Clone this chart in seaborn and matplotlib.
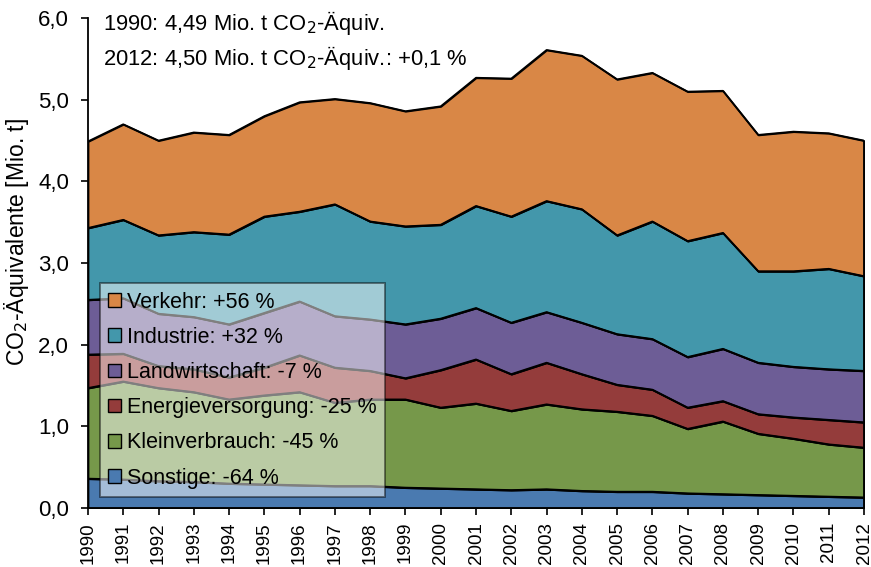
import numpy as np
import pandas as pd
import matplotlib
matplotlib.use("Agg")
import matplotlib.pyplot as plt
import seaborn as sns
from matplotlib.ticker import FuncFormatter, MultipleLocator
from matplotlib.patches import Patch

# Emissions by sector, Mio. t CO2-equivalents
years = list(range(1990, 2013))
sonstige = [0.36, 0.35, 0.33, 0.32, 0.30, 0.29, 0.28, 0.27, 0.27, 0.25, 0.24, 0.23,
            0.22, 0.23, 0.21, 0.20, 0.20, 0.18, 0.17, 0.16, 0.15, 0.14, 0.13]
kleinverbrauch = [1.11, 1.20, 1.14, 1.10, 1.03, 1.09, 1.14, 1.02, 1.06, 1.08, 0.99, 1.05,
                  0.97, 1.04, 1.00, 0.98, 0.93, 0.79, 0.89, 0.75, 0.70, 0.64, 0.61]
energieversorgung = [0.41, 0.34, 0.27, 0.28, 0.27, 0.34, 0.45, 0.43, 0.35, 0.26, 0.46, 0.54,
                     0.45, 0.51, 0.43, 0.33, 0.32, 0.26, 0.25, 0.24, 0.26, 0.30, 0.31]
landwirtschaft = [0.67, 0.68, 0.64, 0.64, 0.65, 0.67, 0.66, 0.63, 0.63, 0.66, 0.63, 0.63,
                  0.63, 0.62, 0.63, 0.62, 0.62, 0.62, 0.64, 0.63, 0.62, 0.62, 0.63]
industrie = [0.88, 0.96, 0.96, 1.04, 1.10, 1.18, 1.10, 1.37, 1.20, 1.20, 1.15, 1.25,
             1.30, 1.36, 1.39, 1.21, 1.44, 1.42, 1.42, 1.12, 1.17, 1.23, 1.16]
verkehr = [1.06, 1.17, 1.16, 1.22, 1.22, 1.23, 1.34, 1.29, 1.45, 1.41, 1.45, 1.57,
           1.69, 1.85, 1.88, 1.91, 1.82, 1.83, 1.74, 1.67, 1.71, 1.66, 1.66]

sectors = ["Sonstige", "Kleinverbrauch", "Energieversorgung",
           "Landwirtschaft", "Industrie", "Verkehr"]
legend_labels = ["Sonstige: -64 %", "Kleinverbrauch: -45 %", "Energieversorgung: -25 %",
                 "Landwirtschaft: -7 %", "Industrie: +32 %", "Verkehr: +56 %"]
colors = ["#4A7AB0", "#76984A", "#943C3B", "#6D5D96", "#4397AB", "#D98746"]

df = pd.DataFrame({"Jahr": years, "Sonstige": sonstige, "Kleinverbrauch": kleinverbrauch,
                   "Energieversorgung": energieversorgung, "Landwirtschaft": landwirtschaft,
                   "Industrie": industrie, "Verkehr": verkehr})

sns.set_theme(style="ticks")
plt.rcParams["font.family"] = ["Liberation Sans", "DejaVu Sans"]

fig = plt.figure(figsize=(8.71, 5.67), dpi=100)
ax = fig.add_axes([0.101, 0.104, 0.891, 0.864])

ax.stackplot(df["Jahr"], *[df[s] for s in sectors], colors=colors,
             edgecolor="black", linewidth=1.3)

# boundary lines of the stacked layers
cum = df[sectors].cumsum(axis=1)
long = cum.assign(Jahr=df["Jahr"]).melt(id_vars="Jahr", var_name="Sektor", value_name="Wert")
sns.lineplot(data=long, x="Jahr", y="Wert", units="Sektor", estimator=None,
             color="black", linewidth=1.3, ax=ax, legend=False)
ax.plot([years[-1], years[-1]], [0, cum["Verkehr"].iloc[-1]], color="black", lw=1.3)

ax.set_xlim(1990, 2012)
ax.set_ylim(0, 6)
ax.set_xticks(years)
ax.set_xticklabels([str(y) for y in years], rotation=90, fontsize=13.5)
ax.yaxis.set_major_locator(MultipleLocator(1))
ax.yaxis.set_major_formatter(FuncFormatter(lambda v, p: f"{v:.1f}".replace(".", ",")))
ax.tick_params(axis="y", labelsize=16, direction="out", length=5, width=1.2,
               color="black", pad=8.5)
ax.tick_params(axis="x", direction="out", length=5, width=1.2, color="black", pad=5)
for lab in ax.get_yticklabels() + ax.get_xticklabels():
    lab.set_color("black")
ax.set_xlabel("")
ax.set_ylabel("CO$_2$-Äquivalente [Mio. t]", fontsize=16.5, color="black")
ax.yaxis.set_label_coords(-0.074, 0.543)
sns.despine(ax=ax)
for sp in ("left", "bottom"):
    ax.spines[sp].set_color("black")
    ax.spines[sp].set_linewidth(1.3)

ax.text(0.019, 0.990, "1990: 4,49 Mio. t CO$_2$-Äquiv.", transform=ax.transAxes,
        fontsize=15.8, va="center", ha="left", color="black")
ax.text(0.019, 0.918, "2012: 4,50 Mio. t CO$_2$-Äquiv.: +0,1 %", transform=ax.transAxes,
        fontsize=15.8, va="center", ha="left", color="black")

handles = [Patch(facecolor=c, edgecolor="black", linewidth=1.0) for c in colors][::-1]
leg = ax.legend(handles, legend_labels[::-1], loc="lower left",
                bbox_to_anchor=(0.015, 0.022), fontsize=15.5, frameon=True,
                fancybox=False, framealpha=0.5, facecolor="white", edgecolor="black",
                handlelength=0.6, handleheight=0.6, handletextpad=0.25,
                labelspacing=0.66, borderpad=0.4, borderaxespad=0)
leg.get_frame().set_linewidth(1.3)
for t in leg.get_texts():
    t.set_color("black")

fig.savefig("out.png", dpi=100)
